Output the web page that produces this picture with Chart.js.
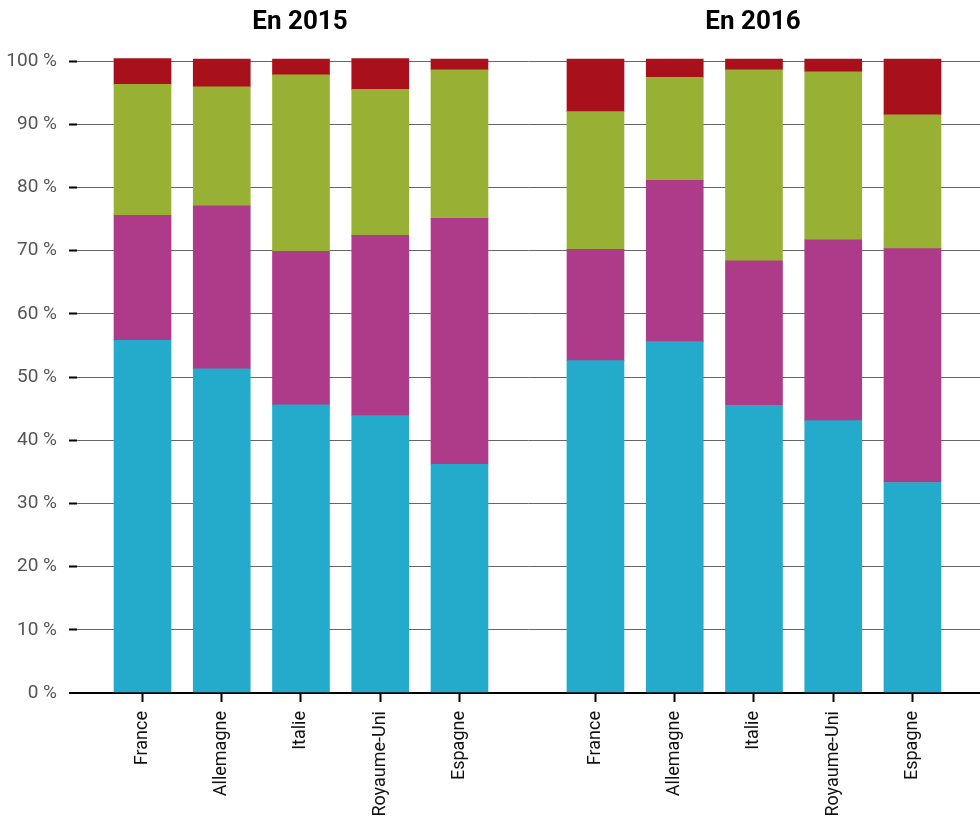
<!DOCTYPE html>
<html>
<head>
<meta charset="utf-8">
<script src="https://cdn.jsdelivr.net/npm/chart.js@4.4.1/dist/chart.umd.min.js"></script>
<style>
  html, body { margin: 0; padding: 0; background: #ffffff; }
  #wrap { width: 980px; height: 821px; position: relative; }
</style>
</head>
<body>
<div id="wrap"><canvas id="c" width="980" height="821"></canvas></div>
<script>
// ---- Data ----
const groups = ['En 2015', 'En 2016'];
const countries = ['France', 'Allemagne', 'Italie', 'Royaume-Uni', 'Espagne'];
const yTicks = [0, 10, 20, 30, 40, 50, 60, 70, 80, 90, 100];

// values in %, order: 2015 (5 countries) then 2016 (5 countries)
const serieBleue  = [55.8, 51.3, 45.6, 43.9, 36.2,   52.6, 55.6, 45.5, 43.1, 33.3];
const serieViolet = [19.8, 25.8, 24.3, 28.5, 38.9,   17.6, 25.5, 22.9, 28.6, 37.0];
const serieVerte  = [20.7, 18.8, 27.9, 23.1, 23.5,   21.8, 16.3, 30.2, 26.6, 21.2];
const serieRouge  = [ 4.1,  4.4,  2.5,  4.9,  1.7,    8.3,  2.9,  1.7,  2.0,  8.8];

// ---- Layout constants (not data) ----
const GROUP_OFFSET = 5.716;   // distance between first bars of the two groups, in bar slots
const FONT = "Roboto, 'Liberation Sans', sans-serif";

// positions of each bar on the linear x scale, built from the category arrays
const xPos = [];
const xLabels = [];
groups.forEach((g, gi) => {
  countries.forEach((c, ci) => {
    xPos.push(gi * GROUP_OFFSET + ci);
    xLabels.push(c);
  });
});

function toPoints(arr) { return arr.map((v, i) => ({ x: xPos[i], y: v })); }

const colors = ['#24aacb', '#ae3a8a', '#98b034', '#a8101c'];
const series = [serieBleue, serieViolet, serieVerte, serieRouge];

const groupTitles = {
  id: 'groupTitles',
  afterDraw(chart) {
    const ctx = chart.ctx;
    const xs = chart.scales.x;
    ctx.save();
    ctx.font = "bold 26px " + FONT;
    ctx.fillStyle = '#000';
    ctx.textAlign = 'center';
    ctx.textBaseline = 'middle';
    groups.forEach((g, gi) => {
      const first = xPos[gi * countries.length];
      const last = xPos[gi * countries.length + countries.length - 1];
      ctx.fillText(g, xs.getPixelForValue((first + last) / 2) - 1, 22);
    });
    ctx.restore();
  }
};

new Chart(document.getElementById('c'), {
  type: 'bar',
  data: {
    datasets: series.map((s, i) => ({
      data: toPoints(s),
      backgroundColor: colors[i],
      borderWidth: 0,
      stack: 'all',
      clip: false,
      barThickness: 57
    }))
  },
  options: {
    responsive: false,
    animation: false,
    layout: { padding: { top: 61, right: 0, left: 0, bottom: 0 } },
    plugins: { legend: { display: false }, tooltip: { enabled: false }, title: { display: false } },
    scales: {
      x: {
        type: 'linear',
        offset: false,
        min: -0.8265,
        max: 10.568,
        border: { display: true, color: '#000', width: 2 },
        grid: { display: true, offset: false, drawOnChartArea: false, drawTicks: true, tickLength: 9, tickColor: '#000', tickWidth: 2 },
        afterBuildTicks(scale) { scale.ticks = xPos.map(v => ({ value: v })); },
        afterFit(scale) { scale.height = 128; },
        ticks: {
          autoSkip: false,
          maxRotation: 90,
          minRotation: 90,
          padding: 9,
          color: '#111',
          font: { family: FONT, size: 18 },
          callback: (v, i) => xLabels[i]
        }
      },
      y: {
        stacked: true,
        min: 0,
        max: 100,
        border: { display: false },
        afterBuildTicks(scale) { scale.ticks = yTicks.map(v => ({ value: v })); },
        afterFit(scale) { scale.width = 77; },
        grid: {
          color: (c) => (c.tick && c.tick.value === 0) ? '#000' : '#666',
          lineWidth: (c) => (c.tick && c.tick.value === 0) ? 2 : 1,
          tickLength: 8,
          tickColor: '#000',
          tickWidth: 2
        },
        ticks: {
          padding: 12,
          color: '#555',
          font: { family: FONT, size: 19 },
          callback: (v) => v + ' %'
        }
      }
    }
  },
  plugins: [groupTitles]
});
</script>
</body>
</html>
